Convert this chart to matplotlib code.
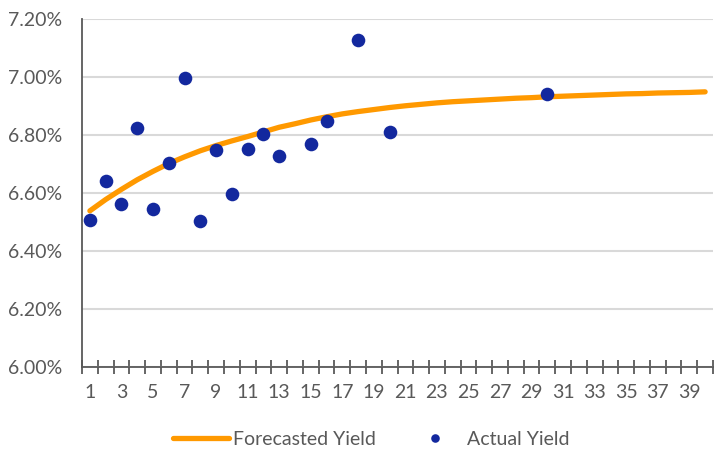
import numpy as np
import matplotlib.pyplot as plt
from matplotlib.ticker import FuncFormatter

plt.rcParams['font.family'] = ['Lato', 'DejaVu Sans']

# maturity in years (category axis)
years = list(range(1, 41))

# fitted yield curve, %
forecast = [6.538, 6.577, 6.612, 6.645, 6.674, 6.701, 6.724, 6.745, 6.763, 6.779,
            6.794, 6.810, 6.826, 6.838, 6.851, 6.862, 6.872, 6.880, 6.887, 6.894,
            6.900, 6.905, 6.910, 6.914, 6.917, 6.920, 6.923, 6.926, 6.928, 6.931,
            6.933, 6.935, 6.937, 6.939, 6.941, 6.942, 6.944, 6.945, 6.946, 6.948]

# observed yields, %
actual_years = [1, 2, 3, 4, 5, 6, 7, 8, 9, 10, 11, 12, 13, 15, 16, 18, 20, 30]
actual = [6.505, 6.642, 6.560, 6.822, 6.543, 6.704, 6.995, 6.503, 6.747, 6.595,
          6.752, 6.803, 6.726, 6.767, 6.847, 7.127, 6.810, 6.940]

grey_txt = '#595959'
orange = '#FF9900'
navy = '#13289E'
fs = 14

fig = plt.figure(figsize=(7.14, 4.51), dpi=100)
ax = fig.add_axes([82 / 714, 84 / 451, (713 - 82) / 714, (367 - 18.7) / 451])

ax.plot(years, forecast, color=orange, lw=3.8, solid_capstyle='round',
        label='Forecasted Yield', zorder=3)
ax.plot(actual_years, actual, 'o', color=navy, ms=9.8, mew=0,
        label='Actual Yield', zorder=4)

ax.set_xlim(0.5, 40.5)
ax.set_ylim(6.0, 7.2)
ax.set_yticks(np.arange(6.0, 7.21, 0.2))
ax.yaxis.set_major_formatter(FuncFormatter(lambda v, p: f'{v:.2f}%'))
ax.grid(axis='y', color='#D9D9D9', lw=1.5, zorder=0)
ax.set_axisbelow(True)

ax.set_xticks(years[::2])
ax.set_xticks(np.arange(0.5, 41, 1), minor=True)
ax.tick_params(axis='x', which='major', length=0, pad=12.5, labelsize=fs,
               labelcolor=grey_txt)
ax.tick_params(axis='x', which='minor', direction='inout', length=10,
               width=1.3, color='#595959')
ax.tick_params(axis='y', length=0, pad=14, labelsize=fs, labelcolor=grey_txt)

for s in ['top', 'right']:
    ax.spines[s].set_visible(False)
for s in ['left', 'bottom']:
    ax.spines[s].set_color('#595959')
    ax.spines[s].set_linewidth(1.3)

leg = fig.legend(loc='lower center', bbox_to_anchor=(371.5 / 714, -0.032), ncol=2,
                 frameon=False, handlelength=2.85, handletextpad=0.2,
                 columnspacing=1.65, fontsize=fs, markerscale=0.63)
for t in leg.get_texts():
    t.set_color(grey_txt)

fig.savefig('out.png', dpi=100)
